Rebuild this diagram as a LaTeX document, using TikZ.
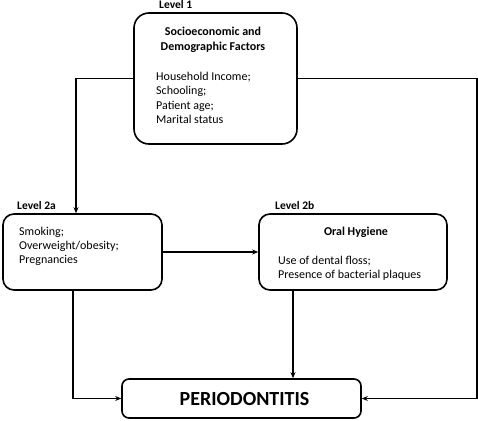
\documentclass[tikz,border=0pt]{standalone}
\usepackage{fontspec}
\setmainfont{Carlito}
\usetikzlibrary{arrows.meta}
\begin{document}
\begin{tikzpicture}[x=1pt,y=-1pt,
  box/.style={draw,line width=1.6pt,inner sep=0pt},
  arr/.style={line width=1.4pt,-{Stealth[length=6pt,width=5pt]}},
  lvl/.style={font=\fontsize{11.5}{13}\selectfont\bfseries,anchor=base west,inner sep=0pt},
  body/.style={font=\fontsize{12}{14.3}\selectfont,anchor=base west,inner sep=0pt,align=left},
  ttl/.style={font=\fontsize{12}{15}\selectfont\bfseries,anchor=base,inner sep=0pt,align=center}]
\useasboundingbox (0,0) rectangle (478,420);
% boxes
\node[box,rounded corners=15pt,minimum width=163pt,minimum height=131pt] (L1) at (215.5,78.5) {};
\node[box,rounded corners=11pt,minimum width=159pt,minimum height=76pt] (L2a) at (82.5,252) {};
\node[box,rounded corners=11pt,minimum width=188pt,minimum height=76pt] (L2b) at (353,252) {};
\node[box,rounded corners=7pt,minimum width=239pt,minimum height=39pt] (P) at (241.5,398.5) {};
% labels
\node[lvl] (lab1) at (159,9) {Level 1};
\node[lvl] (lab2a) at (17,209) {Level 2a};
\node[lvl] (lab2b) at (275,209) {Level 2b};
% texts (anchor = baseline of last line)
\node[ttl] (t1) at (213,51) {Socioeconomic and\\Demographic Factors};
\node[body] (b1) at (156,123.4) {Household Income;\\Schooling;\\Patient age;\\Marital status};
\node[body] (b2a) at (19,263.6) {Smoking;\\Overweight/obesity;\\Pregnancies};
\node[ttl] (t2b) at (356,235) {Oral Hygiene};
\node[body] (b2b) at (278,278.3) {Use of dental floss;\\Presence of bacterial plaques};
\node[font=\fontsize{20}{22}\selectfont\bfseries,anchor=base,inner sep=0pt] (pt) at (244.5,405) {PERIODONTITIS};
% connectors
\coordinate (k1) at (76,78.5);
\coordinate (k2) at (477,78.5);
\coordinate (k3) at (73,0);
\coordinate (k4) at (293,0);
\draw[arr] (L1.west) -- (k1) -- (k1 |- L2a.north);
\draw[arr] (L1.east) -- (k2) |- (P.east);
\draw[arr] (L2a.east) -- (L2b.west);
\draw[arr] (L2a.south -| k3) |- (P.west);
\draw[arr] (L2b.south -| k4) -- (P.north -| k4);
\end{tikzpicture}
\end{document}
